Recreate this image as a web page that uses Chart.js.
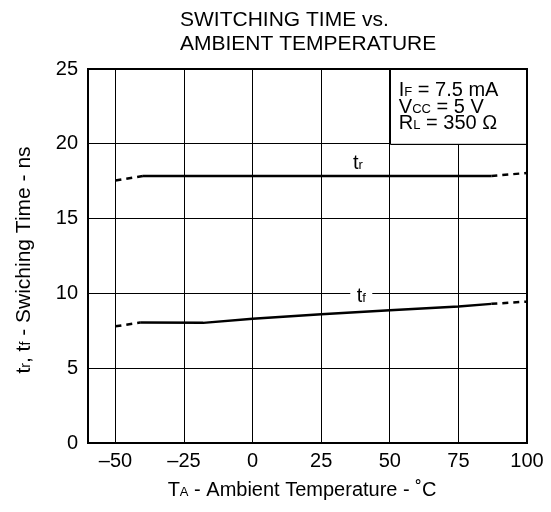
<!DOCTYPE html>
<html>
<head>
<meta charset="utf-8">
<script src="https://cdn.jsdelivr.net/npm/chart.js@4/dist/chart.umd.min.js"></script>
<style>
  html, body { margin: 0; padding: 0; background: #fff; }
</style>
</head>
<body>
<canvas id="switchChart" width="551" height="512"></canvas>
<script>
// axis ticks
const xTicks = [-50, -25, 0, 25, 50, 75, 100];
const yTicks = [0, 5, 10, 15, 20, 25];

// t_r  (rise time, ns)
const trSolidT = [-40, 87];
const trSolidY = [17.85, 17.85];
const trLeftT = [-50, -40];
const trLeftY = [17.55, 17.85];
const trRightT = [87, 100];
const trRightY = [17.85, 18.05];

// t_f  (fall time, ns)
const tfSolidT = [-41, -18, 0, 25, 50, 75, 87];
const tfSolidY = [8.05, 8.03, 8.3, 8.6, 8.88, 9.13, 9.3];
const tfLeftT = [-50, -41];
const tfLeftY = [7.8, 8.05];
const tfRightT = [87, 100];
const tfRightY = [9.3, 9.45];

const FONT = '"Liberation Sans", Arial, Helvetica, sans-serif';

function pts(xs, ys) {
  return xs.map((x, i) => ({ x: x, y: ys[i] }));
}

function lineSet(xs, ys, dashed) {
  return {
    data: pts(xs, ys),
    borderColor: '#000',
    borderWidth: 2.5,
    borderDash: dashed ? [6, 5] : [],
    pointRadius: 0,
    tension: 0,
    fill: false
  };
}

// draw text made of [text, size, dy] parts
function drawRich(ctx, parts, x, y, align) {
  let w = 0;
  parts.forEach(p => { ctx.font = p[1] + 'px ' + FONT; w += ctx.measureText(p[0]).width; });
  let cx = align === 'center' ? x - w / 2 : (align === 'right' ? x - w : x);
  ctx.textAlign = 'left';
  parts.forEach(p => {
    ctx.font = p[1] + 'px ' + FONT;
    ctx.fillText(p[0], cx, y + (p[2] || 0));
    cx += ctx.measureText(p[0]).width;
  });
  return w;
}

const overlay = {
  id: 'overlay',
  afterDraw(chart) {
    const ctx = chart.ctx;
    const a = chart.chartArea;
    const xs = chart.scales.x, ys = chart.scales.y;
    ctx.save();
    ctx.fillStyle = '#000';
    ctx.textBaseline = 'alphabetic';

    // condition box (top right)
    const bx = xs.getPixelForValue(50), by = ys.getPixelForValue(20);
    ctx.fillStyle = '#fff';
    ctx.fillRect(bx + 1, a.top, a.right - bx - 1, by - a.top);
    ctx.strokeStyle = '#000';
    ctx.lineWidth = 1;
    ctx.beginPath();
    ctx.moveTo(Math.round(bx) + 0.5, a.top);
    ctx.lineTo(Math.round(bx) + 0.5, Math.round(by) + 0.5);
    ctx.lineTo(a.right, Math.round(by) + 0.5);
    ctx.stroke();
    ctx.fillStyle = '#000';
    drawRich(ctx, [['I', 20], ['F', 13], [' = 7.5 mA', 20]], bx + 9, a.top + 27, 'left');
    drawRich(ctx, [['V', 20], ['CC', 13], [' = 5 V', 20]], bx + 9, a.top + 43.5, 'left');
    drawRich(ctx, [['R', 20], ['L', 13], [' = 350 \u03A9', 20]], bx + 9, a.top + 60, 'left');

    // curve labels
    drawRich(ctx, [['t', 20], ['r', 13]], xs.getPixelForValue(38.4), ys.getPixelForValue(18.3), 'center');
    const lx = xs.getPixelForValue(39.6), ly = ys.getPixelForValue(10);
    ctx.fillStyle = '#fff';
    ctx.fillRect(lx - 11, ly - 8, 22, 16);
    ctx.fillStyle = '#000';
    drawRich(ctx, [['t', 20], ['f', 13]], lx, ys.getPixelForValue(9.4), 'center');

    // frame
    ctx.strokeStyle = '#000';
    ctx.lineWidth = 2;
    ctx.strokeRect(a.left, a.top, a.right - a.left, a.bottom - a.top);

    // title
    ctx.fillStyle = '#000';
    drawRich(ctx, [['SWITCHING TIME vs.', 21]], 180, 26, 'left');
    drawRich(ctx, [['AMBIENT TEMPERATURE', 21]], 180, 50, 'left');

    // x axis title
    drawRich(ctx, [['T', 20], ['A', 13], [' - Ambient Temperature - \u02DAC', 20]], 302, 496, 'center');

    // y axis title
    ctx.translate(30, 260);
    ctx.rotate(-Math.PI / 2);
    drawRich(ctx, [['t', 21], ['r', 14], [', t', 21], ['f', 14], [' - Swiching Time - ns', 21]], 0, 0, 'center');
    ctx.restore();
  }
};

const ctx = document.getElementById('switchChart').getContext('2d');
new Chart(ctx, {
  type: 'line',
  data: {
    datasets: [
      lineSet(trSolidT, trSolidY, false),
      lineSet(trLeftT, trLeftY, true),
      lineSet(trRightT, trRightY, true),
      lineSet(tfSolidT, tfSolidY, false),
      lineSet(tfLeftT, tfLeftY, true),
      lineSet(tfRightT, tfRightY, true)
    ]
  },
  options: {
    responsive: false,
    animation: false,
    devicePixelRatio: 1,
    layout: { padding: { top: 69, right: 24, left: 0, bottom: 0 } },
    plugins: { legend: { display: false }, tooltip: { enabled: false }, title: { display: false } },
    scales: {
      x: {
        type: 'linear',
        min: -60,
        max: 100,
        afterBuildTicks: s => { s.ticks = xTicks.map(v => ({ value: v })); },
        afterFit: s => { s.height = 69; },
        grid: { color: '#000', lineWidth: 1, drawTicks: false },
        border: { display: false },
        ticks: { color: '#000', padding: 6, font: { family: FONT, size: 20 }, callback: v => v < 0 ? '\u2013' + Math.abs(v) : String(v) }
      },
      y: {
        type: 'linear',
        min: 0,
        max: 25,
        afterBuildTicks: s => { s.ticks = yTicks.map(v => ({ value: v })); },
        afterFit: s => { s.width = 88; },
        grid: { color: '#000', lineWidth: 1, drawTicks: false },
        border: { display: false },
        ticks: { color: '#000', padding: 10, font: { family: FONT, size: 20 } }
      }
    }
  },
  plugins: [overlay]
});
</script>
</body>
</html>
